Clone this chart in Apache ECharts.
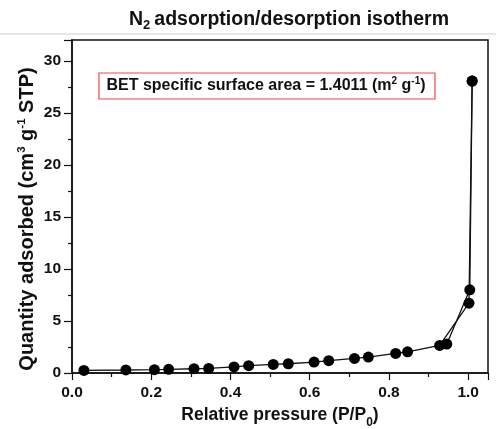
<!DOCTYPE html>
<html>
<head>
<meta charset="utf-8">
<script src="https://cdn.jsdelivr.net/npm/echarts@6/dist/echarts.min.js"></script>
<style>
  html, body { margin: 0; padding: 0; background: #fff; }
  #isothermChart { width: 496px; height: 429px; }
</style>
</head>
<body>
<div id="isothermChart"></div>
<script>
// adsorption branch (P/P0, quantity)
var adsP = [0.030, 0.136, 0.208, 0.244, 0.308, 0.345, 0.409, 0.446, 0.508, 0.546,
            0.611, 0.648, 0.713, 0.748, 0.817, 0.847, 0.928, 1.002, 1.010];
var adsQ = [0.25, 0.29, 0.32, 0.35, 0.41, 0.44, 0.58, 0.70, 0.82, 0.89,
            1.05, 1.18, 1.40, 1.53, 1.88, 2.04, 2.65, 6.71, 28.05];
// desorption branch
var desP = [1.010, 1.004, 0.946];
var desQ = [28.05, 7.99, 2.78];

var xTicks = [0, 0.2, 0.4, 0.6, 0.8, 1.0];
var yTicks = [0, 5, 10, 15, 20, 25, 30];

var font = 'Liberation Sans, Arial, sans-serif';

function pairs(xs, ys) {
  var out = [];
  for (var i = 0; i < xs.length; i++) out.push([xs[i], ys[i]]);
  return out;
}

var chart = echarts.init(document.getElementById('isothermChart'));

var option = {
  animation: false,
  backgroundColor: '#fff',
  title: {
    text: '{b|N}{s|2}{b|adsorption/desorption isotherm}',
    left: 124,
    top: 3,
    textStyle: {
      rich: {
        b: { fontFamily: font, fontWeight: 'bold', fontSize: 19.5, color: '#111', lineHeight: 24 },
        s: { fontFamily: font, fontWeight: 'bold', fontSize: 13, color: '#111', verticalAlign: 'bottom', lineHeight: 17, padding: [0, 4, 0, 0] }
      }
    }
  },
  grid: {
    left: 72, right: 8, top: 40, bottom: 56,
    outerBoundsMode: 'none',
    containLabel: false,
    show: true,
    borderColor: '#111',
    borderWidth: 1.5
  },
  xAxis: {
    type: 'value',
    min: 0, max: 1.05, interval: 0.2,
    name: '{b|Relative pressure (P/P}{s|0}{b|)}',
    nameLocation: 'middle',
    nameGap: 27,
    nameTextStyle: {
      rich: {
        b: { fontFamily: font, fontWeight: 'bold', fontSize: 17.5, color: '#111', lineHeight: 22 },
        s: { fontFamily: font, fontWeight: 'bold', fontSize: 12, color: '#111', verticalAlign: 'top', padding: [15, 0, 0, 0] }
      }
    },
    axisLine: { lineStyle: { color: '#111', width: 1.5 } },
    axisTick: { inside: false, length: 7, lineStyle: { color: '#111', width: 1.2 } },
    minorTick: { show: true, splitNumber: 2, length: 4, lineStyle: { color: '#111', width: 1.2 } },
    splitLine: { show: false },
    axisLabel: {
      margin: 12,
      fontFamily: font, fontWeight: 'bold', fontSize: 15.5, color: '#111',
      showMaxLabel: false,
      formatter: function (v) {
        return Math.abs(v * 5 - Math.round(v * 5)) < 1e-6 && v <= 1.0001 ? v.toFixed(1) : '';
      }
    }
  },
  yAxis: {
    type: 'value',
    min: 0, max: 32, interval: 5,
    axisLine: { lineStyle: { color: '#111', width: 1.5 } },
    axisTick: { inside: false, length: 8, lineStyle: { color: '#111', width: 1.2 } },
    minorTick: { show: true, splitNumber: 2, length: 4, lineStyle: { color: '#111', width: 1.2 } },
    splitLine: { show: false },
    axisLabel: {
      margin: 11,
      fontFamily: font, fontWeight: 'bold', fontSize: 15.5, color: '#111',
      showMaxLabel: false,
      formatter: function (v) {
        return yTicks.indexOf(v) >= 0 ? String(v) : '';
      }
    }
  },
  graphic: [
    {
      type: 'line',
      shape: { x1: 0, y1: 34, x2: 496, y2: 34 },
      style: { stroke: '#cfcfcf', lineWidth: 1 },
      silent: true
    },
    {
      // y axis title
      type: 'text',
      x: 27, y: 219,
      rotation: Math.PI / 2,
      style: {
        text: '{b|Quantity adsorbed (cm}{s|3}{b| g}{s|-1}{b| STP)}',
        align: 'center',
        verticalAlign: 'middle',
        rich: {
          b: { fontFamily: font, fontWeight: 'bold', fontSize: 20, fill: '#111', lineHeight: 23 },
          s: { fontFamily: font, fontWeight: 'bold', fontSize: 11.5, fill: '#111', verticalAlign: 'top', lineHeight: 11 }
        }
      }
    },
    {
      type: 'rect',
      shape: { x: 99, y: 73, width: 336, height: 26 },
      style: { fill: '#fff', stroke: '#f04848', lineWidth: 1.2 },
      z: 10
    },
    {
      type: 'text',
      x: 266, y: 86,
      z: 11,
      style: {
        text: '{b|BET specific surface area = 1.4011 (m}{s|2}{b| g}{s|-1}{b|)}',
        align: 'center',
        verticalAlign: 'middle',
        rich: {
          b: { fontFamily: font, fontWeight: 'bold', fontSize: 16, fill: '#111', lineHeight: 19 },
          s: { fontFamily: font, fontWeight: 'bold', fontSize: 10, fill: '#111', verticalAlign: 'top', lineHeight: 10 }
        }
      }
    }
  ],
  series: [
    {
      name: 'Adsorption',
      type: 'line',
      data: pairs(adsP, adsQ),
      symbol: 'circle',
      symbolSize: 11,
      itemStyle: { color: '#000' },
      lineStyle: { color: '#111', width: 1.3 },
      z: 3
    },
    {
      name: 'Desorption',
      type: 'line',
      data: pairs(desP, desQ),
      symbol: 'circle',
      symbolSize: 11,
      itemStyle: { color: '#000' },
      lineStyle: { color: '#111', width: 1.3 },
      z: 3
    }
  ]
};

chart.setOption(option);
</script>
</body>
</html>
